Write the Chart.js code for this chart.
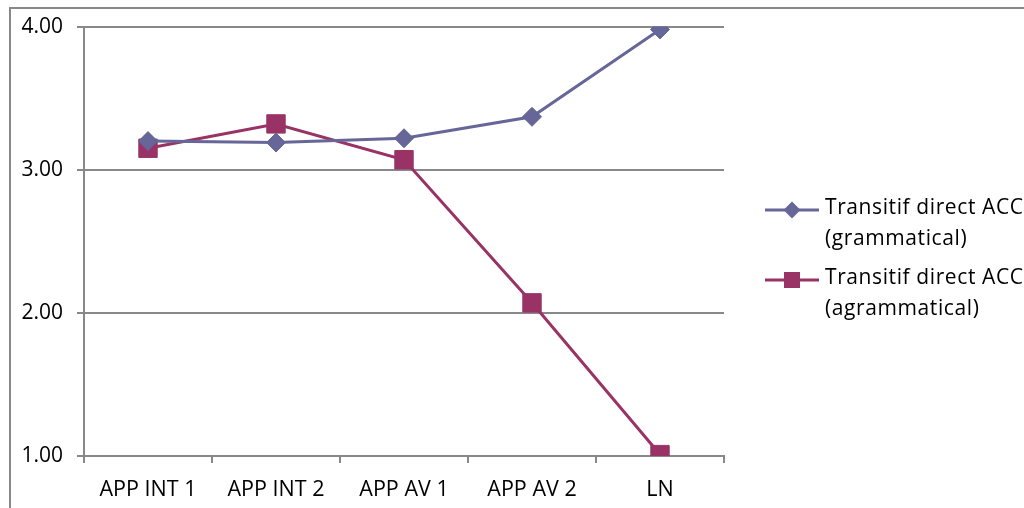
<!DOCTYPE html>
<html>
<head>
<meta charset="utf-8">
<script src="https://cdn.jsdelivr.net/npm/chart.js"></script>
<style>
  html, body { margin: 0; padding: 0; background: #ffffff; }
  #wrap { width: 1024px; height: 508px; }
</style>
</head>
<body>
<div id="wrap"><canvas id="chart" width="1024" height="508"></canvas></div>
<script>
// Categories (learner levels) and mean scores
const categories = ['APP INT 1', 'APP INT 2', 'APP AV 1', 'APP AV 2', 'LN'];
const grammatical = [3.20, 3.19, 3.22, 3.37, 3.98];
const agrammatical = [3.15, 3.32, 3.07, 2.07, 1.01];
const legendLines = [
  ['Transitif direct ACC', '(grammatical)'],
  ['Transitif direct ACC', '(agrammatical)']
];

const FONT = '"Open Sans", "DejaVu Sans", sans-serif';
const GRID = '#888888';

// White background and the outer frame of the chart object
const framePlugin = {
  id: 'frame',
  beforeDraw(chart) {
    const ctx = chart.ctx;
    ctx.save();
    ctx.fillStyle = '#ffffff';
    ctx.fillRect(0, 0, chart.width, chart.height);
    ctx.strokeStyle = GRID;
    ctx.lineWidth = 2;
    ctx.beginPath();
    ctx.moveTo(10, chart.height);
    ctx.lineTo(10, 8);
    ctx.lineTo(chart.width, 8);
    ctx.stroke();
    ctx.restore();
  }
};

// Two-line legend entries on the right
const legendPlugin = {
  id: 'sideLegend',
  afterDraw(chart) {
    const ctx = chart.ctx;
    ctx.save();
    const x0 = 765, x1 = 819, tx = 825;
    const rows = [210, 280];
    chart.data.datasets.forEach((ds, i) => {
      const y = rows[i];
      const mx = (x0 + x1) / 2;
      ctx.strokeStyle = ds.borderColor;
      ctx.lineWidth = 3;
      ctx.beginPath();
      ctx.moveTo(x0, y);
      ctx.lineTo(x1, y);
      ctx.stroke();
      ctx.fillStyle = ds.backgroundColor;
      ctx.beginPath();
      if (ds.pointStyle === 'rectRot') {
        const r = 8.5;
        ctx.moveTo(mx - r, y);
        ctx.lineTo(mx, y - r);
        ctx.lineTo(mx + r, y);
        ctx.lineTo(mx, y + r);
        ctx.closePath();
      } else {
        const h = 8;
        ctx.rect(mx - h, y - h, 2 * h, 2 * h);
      }
      ctx.fill();
      ctx.fillStyle = '#000000';
      ctx.font = '21px ' + FONT;
      ctx.textAlign = 'left';
      ctx.textBaseline = 'middle';
      if ('letterSpacing' in ctx) ctx.letterSpacing = '0.6px';
      legendLines[i].forEach((t, j) => {
        ctx.fillText(t, tx, y - 2 + j * 31);
      });
    });
    ctx.restore();
  }
};

new Chart(document.getElementById('chart'), {
  type: 'line',
  data: {
    labels: categories,
    datasets: [
      {
        label: legendLines[0].join(' '),
        data: grammatical,
        borderColor: '#666699',
        backgroundColor: '#666699',
        borderWidth: 3,
        pointStyle: 'rectRot',
        pointRadius: 9.5,
        pointBorderWidth: 1,
        tension: 0
      },
      {
        label: legendLines[1].join(' '),
        data: agrammatical,
        borderColor: '#993366',
        backgroundColor: '#993366',
        borderWidth: 3,
        pointStyle: 'rect',
        pointRadius: 13,
        pointBorderWidth: 1,
        tension: 0
      }
    ]
  },
  options: {
    responsive: false,
    animation: false,
    layout: { padding: { top: 25, right: 300, bottom: 0, left: 0 } },
    plugins: {
      legend: { display: false },
      tooltip: { enabled: false }
    },
    scales: {
      x: {
        offset: true,
        grid: {
          offset: true,
          drawOnChartArea: false,
          drawTicks: true,
          tickLength: 7,
          color: GRID,
          lineWidth: 2
        },
        border: { color: GRID, width: 2 },
        ticks: {
          color: '#000000',
          font: { family: FONT, size: 21.5 },
          padding: 14,
          maxRotation: 0
        },
        afterFit(scale) { scale.height = 52; }
      },
      y: {
        min: 1,
        max: 4,
        ticks: {
          stepSize: 1,
          color: '#000000',
          font: { family: FONT, size: 21 },
          padding: 14,
          callback: (v) => Number(v).toFixed(2)
        },
        grid: {
          color: GRID,
          lineWidth: 2,
          tickLength: 7,
          drawTicks: true
        },
        border: { color: GRID, width: 2 },
        afterFit(scale) { scale.width = 84; }
      }
    }
  },
  plugins: [framePlugin, legendPlugin]
});
</script>
</body>
</html>
